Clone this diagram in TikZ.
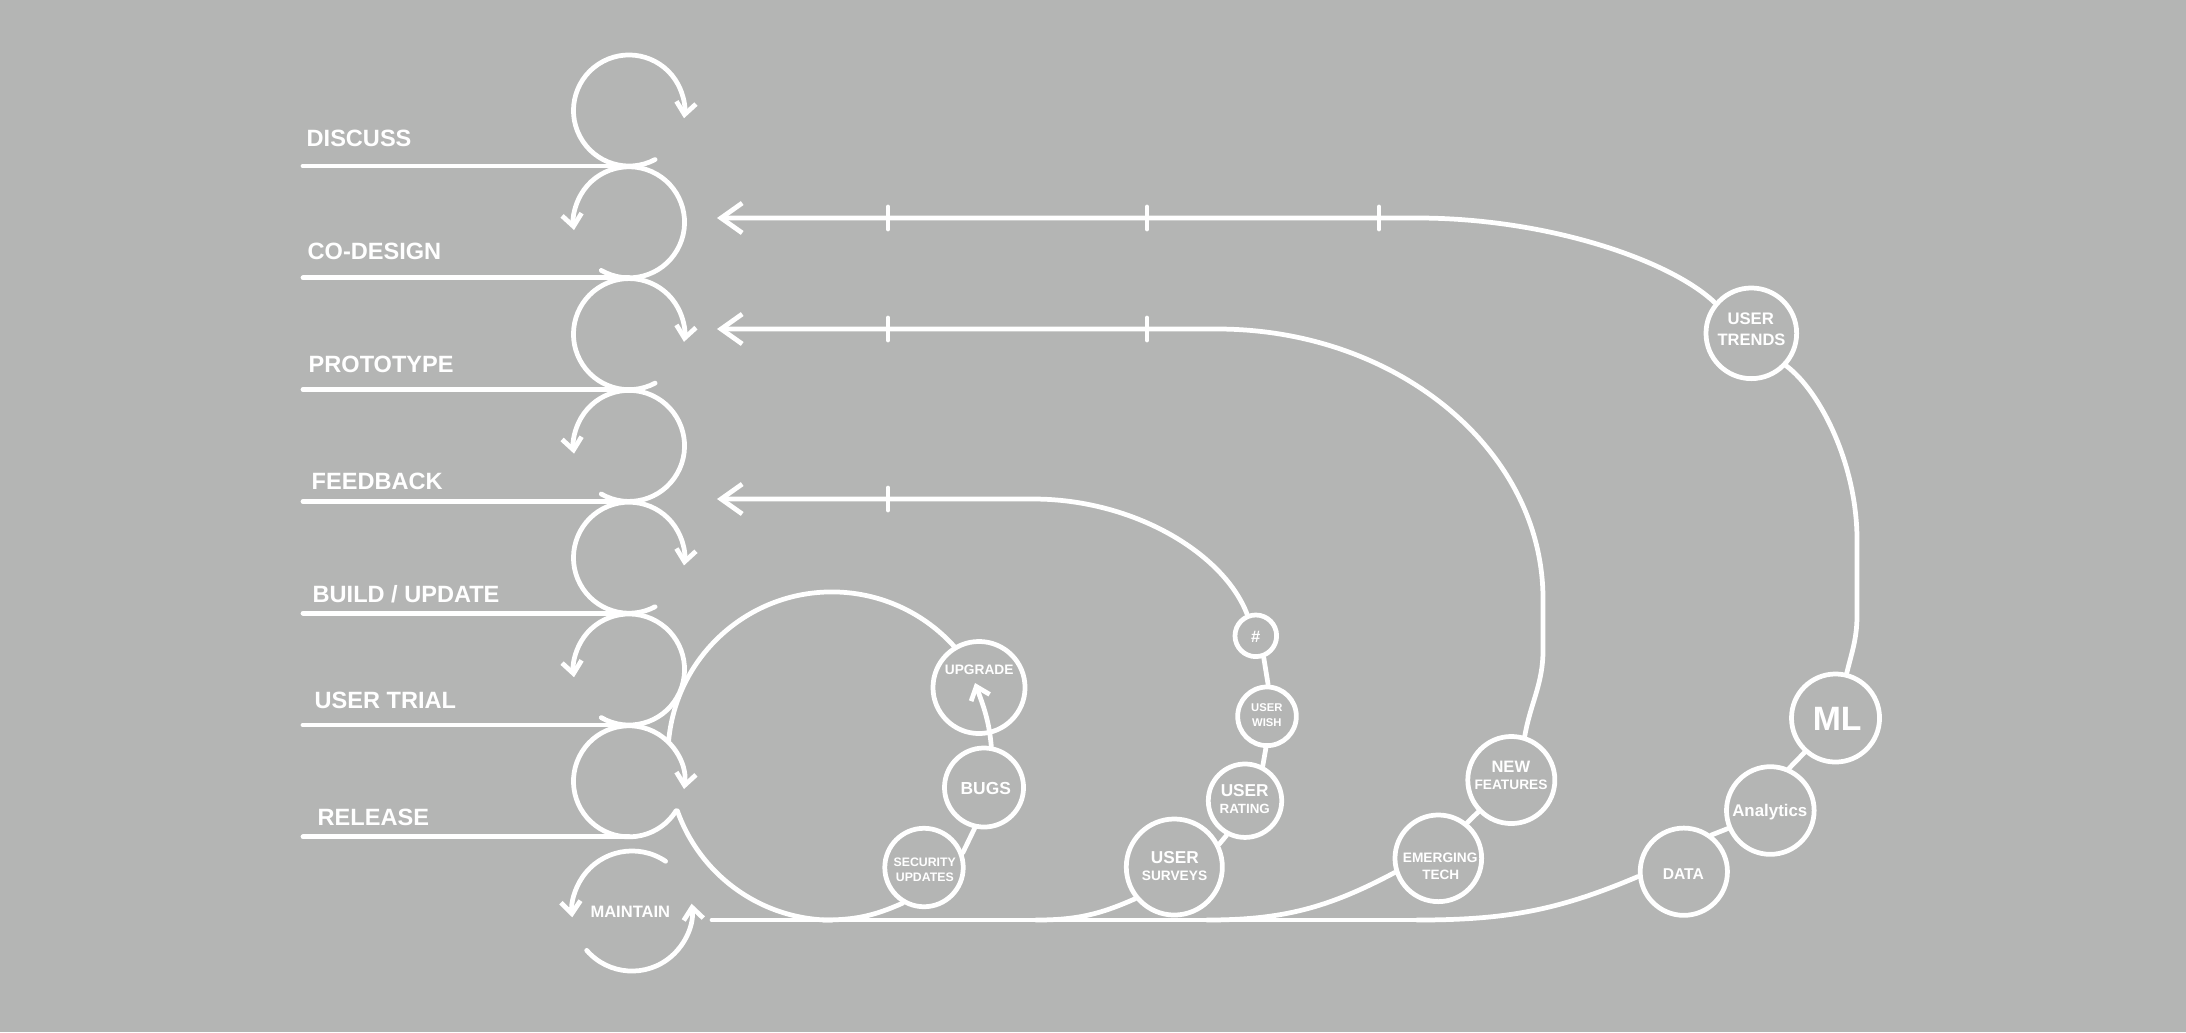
\documentclass[tikz,border=0pt]{standalone}
\usepackage{fontspec}
\setmainfont{Liberation Sans}
\usetikzlibrary{arrows.meta}
\definecolor{bgc}{RGB}{180,181,180}
\newcommand\myfs[1]{\fontsize{#1pt}{#1pt}\selectfont}
\begin{document}
\begin{tikzpicture}[x=0.01cm, y=0.01cm, line cap=round, line join=round,
  ln/.style={draw=white, line width=1.35pt},
  circ/.style={circle, draw=white, line width=1.35pt, inner sep=0pt, minimum size=#1},
  sarr/.style={-{Straight Barb[length=3.4pt,width=5.6pt]}},
  barr/.style={-{Straight Barb[length=6pt,width=8.5pt]}},
  lab/.style={text=white, inner sep=0pt, font=\bfseries\myfs{#1}}]
\fill[bgc] (0,0) rectangle (2186,1032);
\useasboundingbox (0,0) rectangle (2186,1032);

% ---------- stage loops ----------
\coordinate (c0) at (629,921.5);
\coordinate (c1) at (629,809.7);
\coordinate (c2) at (629,697.9);
\coordinate (c3) at (629,586.1);
\coordinate (c4) at (629,474.3);
\coordinate (c5) at (629,362.5);
\coordinate (c6) at (629,250.7);
\foreach \c in {c0,c2,c4}{
  \draw[ln,sarr] ([shift={(-62:0.555cm)}]\c) arc[start angle=-62,end angle=-368,radius=0.555cm];
}
\foreach \c in {c1,c3,c5}{
  \draw[ln,sarr] ([shift={(240:0.555cm)}]\c) arc[start angle=240,end angle=548,radius=0.555cm];
}
\draw[ln,sarr] ([shift={(-32:0.555cm)}]c6) arc[start angle=-32,end angle=-368,radius=0.555cm];

% stage lines
\foreach \c/\n in {c0/l0,c1/l1,c2/l2,c3/l3,c4/l4,c5/l5,c6/l6}{
  \coordinate (\n e) at ([yshift=-0.555cm]\c);
  \coordinate (\n s) at (303,0 |- \n e);
  \draw[ln] (\n s) -- (\n e);
}
\node[lab=6.7, anchor=base west] (tdis) at (306,886) {DISCUSS};
\node[lab=6.7, anchor=base west] (tcod) at (307,773) {CO-DESIGN};
\node[lab=6.7, anchor=base west] (tpro) at (308,660) {PROTOTYPE};
\node[lab=6.7, anchor=base west] (tfee) at (311,543) {FEEDBACK};
\node[lab=6.7, anchor=base west] (tbui) at (312,430) {BUILD / UPDATE};
\node[lab=6.7, anchor=base west] (tusr) at (314,324) {USER TRIAL};
\node[lab=6.7, anchor=base west] (trel) at (317,207) {RELEASE};

% ---------- maintain ----------
\coordinate (mc) at (632,121);
\draw[ln,sarr] ([shift={(56:0.6cm)}]mc) arc[start angle=56,end angle=186,radius=0.6cm];
\draw[ln,sarr] ([shift={(221:0.6cm)}]mc) arc[start angle=221,end angle=367,radius=0.6cm];
\node[lab=4.7, anchor=base] (tmain) at (630.3,114.3) {MAINTAIN};

% ---------- big inner loop ----------
\coordinate (bigc) at (832,276);
\draw[ln] ([shift={(174.6:1.64cm)}]bigc) arc[start angle=174.6,end angle=41.2,radius=1.64cm];
\draw[ln] ([shift={(199.5:1.64cm)}]bigc) arc[start angle=199.5,end angle=270,radius=1.64cm];
\coordinate (m0) at (712,112);
\coordinate (m1) at (1417,112);
\draw[ln] (m0) -- (m1);

% ---------- nodes ----------
\node[circ=0.92cm]  (up)     at (979,344.5) {};
\node[circ=0.79cm]  (bugs)   at (984,244.5) {};
\node[circ=0.784cm] (sec)    at (924,164.5) {};
\node[circ=0.96cm]  (surv)   at (1174.3,165) {};
\node[circ=0.734cm] (rating) at (1245,231.3) {};
\node[circ=0.586cm] (wish)   at (1267,315.7) {};
\node[circ=0.416cm] (hash)   at (1255.8,396.2) {};
\node[circ=0.87cm]  (newf)   at (1511.3,252) {};
\node[circ=0.866cm] (emer)   at (1438.3,173.7) {};
\node[circ=0.906cm] (trends) at (1751.3,698.7) {};
\node[circ=0.88cm]  (ml)     at (1835.5,314) {};
\node[circ=0.876cm] (an)     at (1770.3,221.5) {};
\node[circ=0.872cm] (data)   at (1683.8,160.3) {};

\node[lab=3.9, anchor=base] (tup) at (979.2,357.7) {UPGRADE};
\node[lab=4.95, anchor=base] (tbug) at (985.8,237.7) {BUGS};
\node[lab=3.5, anchor=base] (tsec1) at (924.7,166) {SECURITY};
\node[lab=3.5, anchor=base] (tsec2) at (924.8,151) {UPDATES};
\node[lab=4.9, anchor=base] (tsu1) at (1174.8,168.7) {USER};
\node[lab=3.9, anchor=base] (tsu2) at (1174.5,151.3) {SURVEYS};
\node[lab=4.9, anchor=base] (tra1) at (1244.7,236) {USER};
\node[lab=3.8, anchor=base] (tra2) at (1244.7,218.7) {RATING};
\node[lab=3.2, anchor=base] (twi1) at (1266.8,320.3) {USER};
\node[lab=3.2, anchor=base] (twi2) at (1266.8,306) {WISH};
\node[lab=4.7, anchor=base] (thash) at (1255.8,389.3) {\#};
\node[lab=4.7, anchor=base] (tnf1) at (1510.8,259.7) {NEW};
\node[lab=3.9, anchor=base] (tnf2) at (1511,243) {FEATURES};
\node[lab=3.9, anchor=base] (tem1) at (1440.2,169.7) {EMERGING};
\node[lab=3.85, anchor=base] (tem2) at (1440.7,153) {TECH};
\node[lab=4.75, anchor=base] (ttr1) at (1750.7,707.7) {USER};
\node[lab=4.7, anchor=base] (ttr2) at (1751.5,687) {TRENDS};
\node[lab=9.6, anchor=base] (tml) at (1837.2,302) {ML};
\node[lab=4.8, anchor=base] (tan) at (1769.8,216) {Analytics};
\node[lab=4.45, anchor=base] (tdata) at (1683.3,153) {DATA};

% ---------- innermost chain ----------
\coordinate (uptip) at (975,349);
\draw[ln,sarr] (bugs.80) to[out=95,in=-70] (uptip);
\draw[ln] (sec.21) -- (bugs.257);
\coordinate (ms) at (823,112);
\draw[ln] (sec.239) to[out=204,in=0] (ms);

% ---------- inner feedback loop ----------
\coordinate (tipC) at (717,533);
\coordinate (C1) at (1033,533);
\draw[ln,barr] (hash.112) .. controls (1224,478.5) and (1134,533) .. (C1) -- (tipC);
\draw[ln] (hash.-70) -- (wish.88);
\draw[ln] (wish.-92) -- (rating.63);
\draw[ln] (rating.242) -- (surv.27);
\coordinate (ms2) at (1036,112);
\draw[ln] (surv.219) to[out=204,in=0] (ms2);

% ---------- middle feedback loop ----------
\coordinate (tipB) at (717,703);
\coordinate (B1) at (1217,703);
\coordinate (B2) at (1543,433);
\coordinate (B3) at (1543,382);
\draw[ln,barr] (newf.73) to[out=80,in=-90] (B3) -- (B2) .. controls +(0,149) and +(180,0) .. (B1) -- (tipB);
\draw[ln] (newf.224) -- (emer.51);
\coordinate (ms3) at (1207,112);
\draw[ln] (emer.198) to[out=208,in=0] (ms3);

% ---------- outer feedback loop ----------
\coordinate (tipA) at (717,814);
\coordinate (A1) at (1417,814);
\coordinate (A2) at (1857,492);
\coordinate (A3) at (1857,417);
\draw[ln,barr] (trends.140) .. controls (1670,772) and (1547,814) .. (A1) -- (tipA);
\draw[ln] (ml.76) to[out=76,in=-90] (A3) -- (A2) .. controls (1857,568) and (1820,641) .. (trends.-43);
\draw[ln] (ml.228) -- (an.66);
\draw[ln] (an.203) -- (data.53);
\draw[ln] (data.186) to[out=203,in=0] (m1);

% ---------- ticks ----------
\foreach \x in {888,1147,1379} \draw[ln] (\x,803) -- (\x,825);
\foreach \x in {888,1147} \draw[ln] (\x,692) -- (\x,714);
\draw[ln] (888,522) -- (888,544);
\end{tikzpicture}
\end{document}
